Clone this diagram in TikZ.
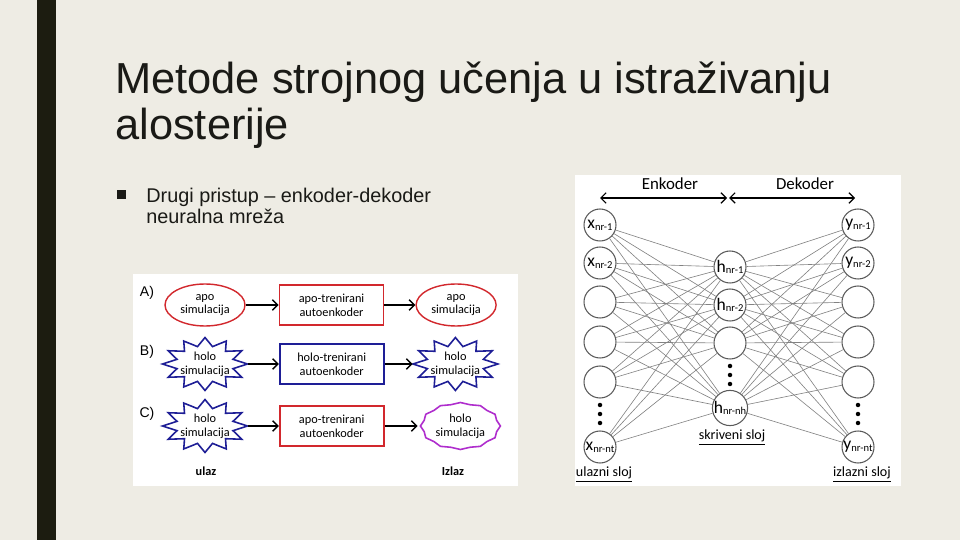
\documentclass[tikz,border=0pt]{standalone}
\usepackage{fontspec}
\setmainfont{Liberation Sans}
\newfontfamily\calib{Carlito}
\usetikzlibrary{arrows.meta, shapes.geometric, positioning}

\definecolor{slidebg}{RGB}{238,236,228}
\definecolor{slidebar}{RGB}{28,28,16}
\definecolor{slidetext}{RGB}{26,26,22}
\definecolor{apored}{RGB}{210,40,45}
\definecolor{holoblue}{RGB}{30,30,150}
\definecolor{mixviolet}{RGB}{175,45,205}
\definecolor{neurongray}{RGB}{90,90,90}
\definecolor{edgegray}{RGB}{130,130,130}

% neuron index, set small and a little low
\newcommand{\nidx}[1]{{\fontsize{6}{7}\selectfont\raisebox{-0.35ex}{#1}}}

\begin{document}
\begin{tikzpicture}[
  x=0.02cm, y=-0.02cm,
  node distance=0.62cm,
  titletext/.style={anchor=base west, inner sep=0pt, align=left, text=slidetext,
                    font=\fontsize{24.7}{26.6}\selectfont},
  pointtext/.style={anchor=base west, inner sep=0pt, align=left, text=slidetext,
                    font=\fontsize{11.3}{12}\selectfont},
  apo/.style={ellipse, draw=apored, line width=0.8pt, fill=white, align=center,
              minimum width=1.6cm, minimum height=0.84cm, inner sep=0pt,
              font=\calib\fontsize{7}{7.8}\selectfont},
  holo/.style={ellipse, align=center, minimum width=1.7cm, minimum height=1.06cm,
               inner sep=0pt, font=\calib\fontsize{7}{7.8}\selectfont},
  coder/.style={rectangle, draw=#1, line width=1pt, fill=white, align=center,
                minimum width=2.08cm, minimum height=0.8cm,
                font=\calib\fontsize{7}{7.8}\selectfont},
  hololine/.style={draw=holoblue, line width=0.9pt, line join=miter},
  mixline/.style={draw=mixviolet, line width=0.9pt},
  rowlabel/.style={font=\fontsize{8}{9}\selectfont, inner sep=0pt},
  endlabel/.style={font=\calib\bfseries\fontsize{7}{8}\selectfont, inner sep=0pt},
  arr/.style={-{Straight Barb[length=3pt]}, line width=0.8pt},
  span/.style={{Straight Barb[length=3pt]}-{Straight Barb[length=3pt]}, line width=0.7pt},
  neuron/.style={circle, draw=neurongray, line width=0.6pt, fill=white,
                 minimum size=0.64cm, inner sep=0pt,
                 font=\calib\fontsize{10}{12}\selectfont},
  link/.style={draw=edgegray, line width=0.35pt},
  netlabel/.style={font=\calib\fontsize{9.6}{11}\selectfont, inner sep=0pt},
  layerlabel/.style={font=\calib\fontsize{8}{9}\selectfont, inner sep=0pt}
]

% --- Slide background ---
\useasboundingbox (0,0) rectangle (960,540);
\fill[slidebg] (0,0) rectangle (960,540);
\fill[slidebar] (37,0) rectangle (56,540);

% --- Title and bullet ---
\node[titletext] (title) at (115,140) {Metode strojnog učenja u istraživanju\\alosterije};
\node[fill=slidetext, minimum size=0.18cm, inner sep=0pt] (bullet) at (121,195) {};
\node[pointtext] (point) at (146,224) {Drugi pristup -- enkoder-dekoder\\neuralna mreža};

% --- Left figure: A) B) C) ---
\fill[white] (133,274) rectangle (518,486);

\node[rowlabel] (la) at (147,293) {A)};
\node[rowlabel] (lb) at (147,352) {B)};
\node[rowlabel] (lc) at (147,414) {C)};

\node[apo] (a1) at (205,305) {apo\\simulacija};
\node[coder=apored, right=0.66cm of a1] (a2) {apo-trenirani\\autoenkoder};
\node[apo, right=of a2] (a3) {apo\\simulacija};

\node[holo] (b1) at (205,364) {holo\\simulacija};
\node[coder=holoblue, right=of b1] (b2) {holo-trenirani\\autoenkoder};
\node[holo, right=0.56cm of b2] (b3) {holo\\simulacija};

\node[holo] (c1) at (205,426) {holo\\simulacija};
\node[coder=apored, right=of c1] (c2) {apo-trenirani\\autoenkoder};
\node[holo, minimum height=0.94cm, right=of c2, xshift=0.04cm] (c3) {holo\\simulacija};

\foreach \n in {b1, b3, c1}
  \draw[hololine, shift={(\n)}] (0:0.85cm and 0.53cm)
    \foreach \a in {15,45,...,345} {-- (\a:0.58cm and 0.36cm) -- ({\a+15}:0.85cm and 0.53cm)} -- cycle;
\draw[mixline, shift={(c3)}] (0:0.8cm and 0.47cm)
  \foreach \a in {15,45,...,345} {-- (\a:0.75cm and 0.44cm) -- ({\a+15}:0.8cm and 0.47cm)} -- cycle;

\draw[arr] (a1) -- (a2);
\draw[arr] (a2) -- (a3);
\draw[arr] (b1) -- (b2);
\draw[arr] (b2) -- (b3);
\draw[arr] (c1) -- (c2);
\draw[arr] (c2) -- (c3);

\node[endlabel] (ulaz) at (206,471) {ulaz};
\node[endlabel] (izlaz) at (453,471) {Izlaz};

% --- Right figure: encoder-decoder network ---
\fill[white] (575,175) rectangle (901,486);

\node[netlabel] (enk) at (670,184) {Enkoder};
\node[netlabel] (dek) at (805,184) {Dekoder};
\coordinate (encL) at (600,198);
\coordinate (encR) at (727,198);
\coordinate (decL) at (729,198);
\coordinate (decR) at (855,198);
\draw[span] (encL) -- (encR);
\draw[span] (decL) -- (decR);

\node[neuron] (in1) at (600,225) {x\nidx{nr-1}};
\node[neuron] (in2) at (600,263) {x\nidx{nr-2}};
\node[neuron] (in3) at (600,302) {};
\node[neuron] (in4) at (600,342) {};
\node[neuron] (in5) at (600,382) {};
\node[neuron] (in6) at (600,447) {x\nidx{nr-nt}};

\node[neuron] (hid1) at (730,267) {h\nidx{nr-1}};
\node[neuron] (hid2) at (730,305) {h\nidx{nr-2}};
\node[neuron] (hid3) at (730,343) {};
\node[neuron] (hid4) at (730,408) {h\nidx{nr-nh}};

\node[neuron] (out1) at (858,225) {y\nidx{nr-1}};
\node[neuron] (out2) at (858,263) {y\nidx{nr-2}};
\node[neuron] (out3) at (858,302) {};
\node[neuron] (out4) at (858,342) {};
\node[neuron] (out5) at (858,382) {};
\node[neuron] (out6) at (858,447) {y\nidx{nr-nt}};

\foreach \i in {1,...,6}
  \foreach \h in {1,...,4} {
    \draw[link] (in\i) -- (hid\h);
    \draw[link] (hid\h) -- (out\i);
  }

\foreach \y in {405,414,423} {
  \fill (600,\y) circle (0.045cm);
  \fill (858,\y) circle (0.045cm);
}
\foreach \y in {366,375,384}
  \fill (730,\y) circle (0.045cm);

\node[layerlabel] (hidlab) at (732,438) {\underline{skriveni sloj}};
\node[layerlabel] (inlab) at (604,475) {\underline{ulazni sloj}};
\node[layerlabel] (outlab) at (862,475) {\underline{izlazni sloj}};

\end{tikzpicture}
\end{document}
